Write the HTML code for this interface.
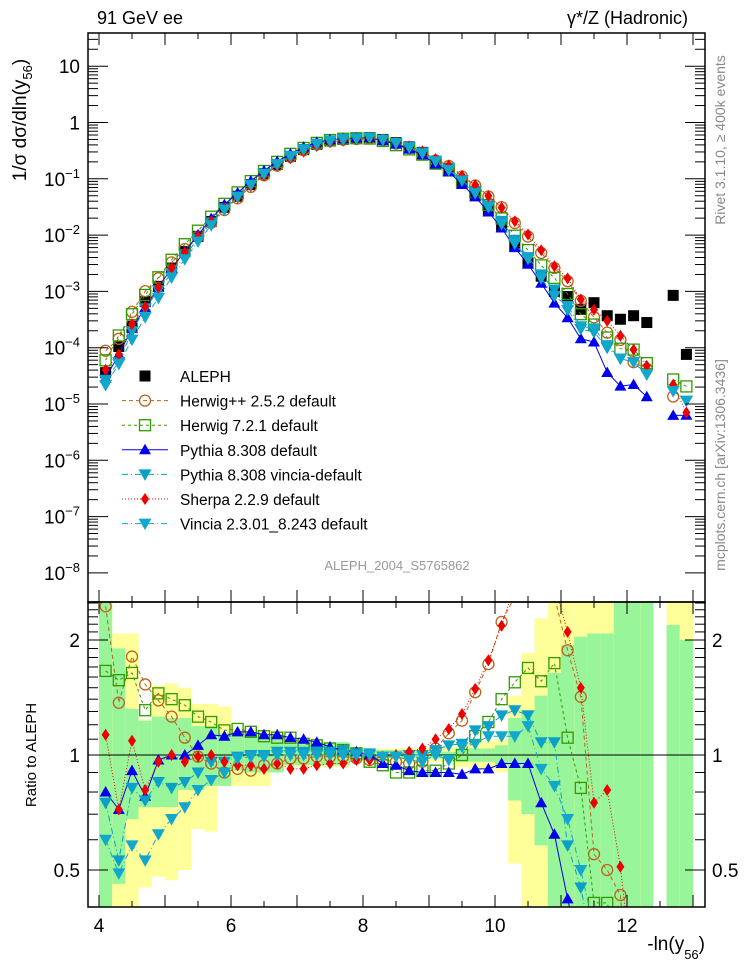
<!DOCTYPE html>
<html><head><meta charset="utf-8"><style>
html,body{margin:0;padding:0;background:#fff;width:746px;height:972px;overflow:hidden;}
svg{display:block;font-family:"Liberation Sans",sans-serif;}
</style></head><body>
<svg id="chart" width="746" height="972" viewBox="0 0 746 972" xmlns="http://www.w3.org/2000/svg">
<defs>
<clipPath id="clipTop"><rect x="88" y="33" width="617" height="569"/></clipPath>
<clipPath id="clipBot"><rect x="88" y="602" width="617" height="305"/></clipPath>
</defs>
<g id="bands" clip-path="url(#clipBot)"></g>
<g id="series"></g>
<g id="axes"></g>
<g id="legend"></g>
<text x="97" y="24" font-size="18">91 GeV ee</text>
<text x="688" y="24" font-size="18" text-anchor="end">γ*/Z (Hadronic)</text>
<text x="397" y="570" font-size="13" fill="#999" text-anchor="middle">ALEPH_2004_S5765862</text>
<text transform="translate(725,140) rotate(-90)" font-size="14" fill="#888" text-anchor="middle">Rivet 3.1.10, ≥ 400k events</text>
<text transform="translate(725,465) rotate(-90)" font-size="14" fill="#888" text-anchor="middle">mcplots.cern.ch [arXiv:1306.3436]</text>
<text transform="translate(26,120) rotate(-90)" font-size="19" text-anchor="middle">1/σ  dσ/dln(y<tspan font-size="13" dy="6">56</tspan><tspan dy="-6">)</tspan></text>
<text transform="translate(36,755) rotate(-90)" font-size="15" text-anchor="middle">Ratio to ALEPH</text>
<text x="705" y="950" font-size="19" text-anchor="end">-ln(y<tspan font-size="13" dy="9">56</tspan><tspan dy="-9">)</tspan></text>
</svg>
<script>
const centers = [4.1,4.3,4.5,4.7,4.9,5.1,5.3,5.5,5.7,5.9,6.1,6.3,6.5,6.7,6.9,7.1,7.3,7.5,7.7,7.9,8.1,8.3,8.5,8.7,8.9,9.1,9.3,9.5,9.7,9.9,10.1,10.3,10.5,10.7,10.9,11.1,11.3,11.5,11.7,11.9,12.1,12.3,12.5,12.7,12.9];
const alephValues = [3.6e-5,1.05e-4,2.4e-4,6.6e-4,1.23e-3,2.6e-3,5.1e-3,9.5e-3,0.0174,0.031,0.049,0.079,0.123,0.18,0.25,0.33,0.41,0.47,0.5,0.52,0.54,0.5,0.44,0.37,0.295,0.204,0.148,0.089,0.052,0.028,0.0141,6.3e-3,3.2e-3,1.86e-3,1.0e-3,8.1e-4,4.8e-4,6.3e-4,3.7e-4,3.2e-4,3.7e-4,2.8e-4,null,8.5e-4,7.6e-5];
const ratioHerwigPP = [2.45,1.37,1.81,1.53,1.39,1.26,1.11,0.99,0.95,0.90,0.92,0.91,0.94,0.95,0.98,0.98,0.99,0.99,0.99,0.98,0.97,0.97,0.96,0.95,0.96,1.04,1.14,1.23,1.46,1.73,2.23,2.6,2.95,2.6,2.6,1.88,1.42,0.55,0.50,0.43,0.15,0.15,null,0.016,null];
const ratioHerwig7 = [1.66,1.57,1.64,1.31,1.45,1.40,1.35,1.26,1.22,1.16,1.17,1.15,1.12,1.11,1.11,1.07,1.06,1.04,1.03,1.01,0.96,0.94,0.90,0.90,0.91,0.91,0.95,1.0,1.12,1.22,1.40,1.55,1.69,1.56,1.74,1.11,0.82,0.41,0.41,0.3,0.25,0.19,null,0.032,0.27];
const ratioPythia = [0.80,0.72,0.91,0.78,0.97,1.0,1.0,1.06,1.13,1.12,1.15,1.15,1.13,1.13,1.11,1.10,1.08,1.05,1.03,1.02,1.0,0.95,0.94,0.91,0.90,0.90,0.90,0.89,0.92,0.92,0.95,0.95,0.95,0.75,0.62,0.42,0.3,0.2,0.098,0.065,0.06,0.048,null,0.0074,0.083];
const ratioPythiaVincia = [0.75,0.53,0.82,0.76,0.85,0.82,0.85,0.90,0.96,0.96,0.99,1.0,1.0,1.02,1.02,1.02,1.02,1.02,1.03,1.01,1.01,0.99,0.99,1.0,1.0,1.03,1.06,1.07,1.16,1.19,1.27,1.31,1.27,1.08,1.08,0.58,0.45,0.3,0.27,0.2,0.15,0.12,null,0.02,0.15];
const ratioSherpa = [1.13,0.72,1.09,0.81,0.96,1.0,0.96,0.99,1.0,0.96,0.94,0.94,0.92,0.95,0.92,0.92,0.94,0.95,0.95,0.97,0.97,0.99,1.0,1.02,1.04,1.10,1.17,1.28,1.49,1.77,2.18,2.8,3.2,2.9,2.8,2.1,1.50,0.75,0.81,0.51,0.25,0.17,null,0.026,0.093];
const ratioVincia = [0.60,0.49,0.58,0.53,0.62,0.68,0.73,0.81,0.86,0.90,0.98,0.99,0.99,1.0,1.0,1.0,1.0,1.0,1.0,1.0,1.0,0.99,0.99,0.97,0.96,1.0,0.97,1.05,1.07,1.12,1.12,1.12,1.19,0.92,0.83,0.68,0.50,0.35,0.3,0.2,0.15,0.12,null,0.02,0.15];
const bandYellowHi = [2.5,2.08,2.08,1.24,1.52,1.54,1.5,1.36,1.36,1.34,1.17,1.16,1.16,1.16,1.1,1.1,1.09,1.08,1.07,1.05,1.04,1.04,1.04,1.04,1.04,1.04,1.05,1.06,1.07,1.09,1.1,1.43,1.85,2.28,2.5,2.5,2.5,2.5,2.5,2.5,2.5,2.5,null,2.5,2.5];
const bandYellowLo = [0.4,0.4,0.4,0.45,0.48,0.47,0.5,0.64,0.63,0.83,0.83,0.83,0.83,0.9,0.93,0.93,0.93,0.93,0.93,0.96,0.96,0.96,0.96,0.96,0.96,0.96,0.96,0.93,0.92,0.92,0.9,0.52,0.4,0.4,0.4,0.4,0.4,0.4,0.4,0.4,0.4,0.4,null,0.4,0.4];
const bandGreenHi = [2.5,1.9,1.32,1.23,1.26,1.25,1.25,1.19,1.19,1.14,1.14,1.12,1.12,1.12,1.08,1.08,1.08,1.08,1.08,1.03,1.03,1.03,1.03,1.02,1.02,1.02,1.02,1.04,1.04,1.04,1.06,1.25,1.31,1.43,1.64,1.94,2.04,2.08,2.08,2.5,2.5,2.5,null,2.19,2.0];
const bandGreenLo = [0.4,0.46,0.68,0.73,0.73,0.73,0.81,0.81,0.83,0.83,0.91,0.9,0.9,0.9,0.94,0.94,0.94,0.94,0.94,0.98,0.98,0.98,0.98,0.98,0.98,0.98,0.98,0.96,0.96,0.96,0.94,0.76,0.70,0.58,0.4,0.4,0.4,0.4,0.4,0.4,0.4,0.4,null,0.4,0.4];
const xTicks = [4,6,8,10,12];
const ratioTicks = [0.5,1,2];

const NS='http://www.w3.org/2000/svg';
const X0=88,X1=705,TOP0=33,TOP1=602,BOT1=907;
function sx(v){return 99+66*(v-4);}
function syTop(v){return 122.5-56.3*Math.log10(v);}
function syRat(r){return 755-382*Math.log10(r);}
function mk(tag,attrs,parent){const e=document.createElementNS(NS,tag);for(const k in attrs)e.setAttribute(k,attrs[k]);parent.appendChild(e);return e;}
const gBands=document.getElementById('bands'),gSeries=document.getElementById('series'),gAxes=document.getElementById('axes'),gLeg=document.getElementById('legend');

centers.forEach((c,i)=>{
  if(bandYellowHi[i]==null)return;
  const x=sx(c-0.1),w=sx(c+0.1)-sx(c-0.1);
  const y=mk('rect',{x:x,y:syRat(bandYellowHi[i]),width:w,height:syRat(bandYellowLo[i])-syRat(bandYellowHi[i]),fill:'#ffff99'},gBands);
  
  
  const g=mk('rect',{x:x,y:syRat(bandGreenHi[i]),width:w,height:syRat(bandGreenLo[i])-syRat(bandGreenHi[i]),fill:'#99f599'},gBands);
  
  
});
mk('line',{x1:X0,x2:X1,y1:syRat(1),y2:syRat(1),stroke:'#000','stroke-width':1},gBands);

const seriesList=[
 {name:'herwigpp',label:'Herwig++ 2.5.2 default',ratio:ratioHerwigPP,color:'#b8651b',dash:'4,3',marker:'circle'},
 {name:'herwig7',label:'Herwig 7.2.1 default',ratio:ratioHerwig7,color:'#339900',dash:'3,3',marker:'square'},
 {name:'pythia',label:'Pythia 8.308 default',ratio:ratioPythia,color:'#0000ee',dash:'',marker:'triup'},
 {name:'pythia-vincia',label:'Pythia 8.308 vincia-default',ratio:ratioPythiaVincia,color:'#0aa0c8',dash:'6,3,1,3',marker:'tridown'},
 {name:'sherpa',label:'Sherpa 2.2.9 default',ratio:ratioSherpa,color:'#ee0000',dash:'1,2',marker:'diamond'},
 {name:'vincia',label:'Vincia 2.3.01_8.243 default',ratio:ratioVincia,color:'#12a8cc',dash:'6,3,1,3',marker:'tridown'}
];
function drawMarker(type,x,y,color,parent){
  let e;
  if(type==='circle')e=mk('circle',{cx:x,cy:y,r:5.5,fill:'none',stroke:color,'stroke-width':1.3},parent);
  else if(type==='square')e=mk('rect',{x:x-5.5,y:y-5.5,width:11,height:11,fill:'none',stroke:color,'stroke-width':1.3},parent);
  else if(type==='triup')e=mk('polygon',{points:`${x},${y-6} ${x-6},${y+4.5} ${x+6},${y+4.5}`,fill:color},parent);
  else if(type==='tridown')e=mk('polygon',{points:`${x-6.5},${y-5} ${x+6.5},${y-5} ${x},${y+6.5}`,fill:color},parent);
  else if(type==='diamond')e=mk('polygon',{points:`${x},${y-6} ${x+4},${y} ${x},${y+6} ${x-4},${y}`,fill:color},parent);
  else e=mk('rect',{x:x-5.5,y:y-5.5,width:11,height:11,fill:color},parent);
  return e;
}
const gTop=mk('g',{'clip-path':'url(#clipTop)'},gSeries);
const gBot=mk('g',{'clip-path':'url(#clipBot)'},gSeries);
centers.forEach((c,i)=>{
  if(alephValues[i]==null)return;
  const m=drawMarker('filled',sx(c),syTop(alephValues[i]),'#000',gTop);
  
  
});
function drawLine(pts,s,parent){
  let segs=[],cur=[];
  pts.forEach(p=>{if(p==null){if(cur.length)segs.push(cur);cur=[];}else cur.push(p);});
  if(cur.length)segs.push(cur);
  segs.forEach(sg=>{
    const l=mk('polyline',{points:sg.map(p=>p.join(',')).join(' '),fill:'none',stroke:s.color,'stroke-width':1,'stroke-dasharray':s.dash},parent);
    
    
  });
}
seriesList.forEach(s=>{
  const topPts=centers.map((c,i)=>(s.ratio[i]==null||alephValues[i]==null)?null:[sx(c),syTop(alephValues[i]*s.ratio[i])]);
  const botPts=centers.map((c,i)=>(s.ratio[i]==null)?null:[sx(c),syRat(s.ratio[i])]);
  drawLine(topPts,s,gTop);drawLine(botPts,s,gBot);
  topPts.forEach(p=>{if(!p)return;const m=drawMarker(s.marker,p[0],p[1],s.color,gTop);
    
    });
  botPts.forEach(p=>{if(!p)return;const m=drawMarker(s.marker,p[0],p[1],s.color,gBot);
    
    });
});

mk('rect',{x:X0,y:TOP0,width:X1-X0,height:TOP1-TOP0,fill:'none',stroke:'#000','stroke-width':1.5},gAxes);
mk('rect',{x:X0,y:TOP1,width:X1-X0,height:BOT1-TOP1,fill:'none',stroke:'#000','stroke-width':1.5},gAxes);
for(let v=4;v<=13.01;v+=0.5){
  const x=sx(v),major=Math.abs(v-Math.round(v))<1e-6,L=major?12:6;
  [[TOP0,1],[TOP1,-1],[TOP1,1],[BOT1,-1]].forEach(([y,d])=>mk('line',{x1:x,x2:x,y1:y,y2:y+d*L,stroke:'#000','stroke-width':1},gAxes));
}
xTicks.forEach(v=>{const t=mk('text',{x:sx(v),y:932,'font-size':19,'text-anchor':'middle'},gAxes);t.textContent=v;
  
  });
for(let e=-8;e<=1;e++){
  for(let k=1;k<=9;k++){
    const v=k*Math.pow(10,e),y=syTop(v);
    if(y<TOP0||y>TOP1)continue;
    const L=k===1?20:10;
    mk('line',{x1:X0,x2:X0+L,y1:y,y2:y,stroke:'#000','stroke-width':1},gAxes);
    mk('line',{x1:X1,x2:X1-L,y1:y,y2:y,stroke:'#000','stroke-width':1},gAxes);
  }
  const t=mk('text',{x:80,y:syTop(Math.pow(10,e))+7,'font-size':19,'text-anchor':'end'},gAxes);
  
  
  if(e===1)t.textContent='10';else if(e===0)t.textContent='1';
  else{t.textContent='10';const sp=mk('tspan',{'font-size':13,dy:-8},t);sp.textContent='−'+(-e);}
}
for(let r=0.4;r<=2.51;r+=0.1){
  const y=syRat(r);if(y<TOP1||y>BOT1)continue;
  const major=ratioTicks.some(t=>Math.abs(t-r)<1e-6);const L=major?20:10;
  mk('line',{x1:X0,x2:X0+L,y1:y,y2:y,stroke:'#000','stroke-width':1},gAxes);
  mk('line',{x1:X1,x2:X1-L,y1:y,y2:y,stroke:'#000','stroke-width':1},gAxes);
}
ratioTicks.forEach(r=>{
  const a=mk('text',{x:80,y:syRat(r)+7,'font-size':19,'text-anchor':'end'},gAxes);a.textContent=r;
  
  
  const b=mk('text',{x:712,y:syRat(r)+7,'font-size':19},gAxes);b.textContent=r;
  
  
});
const legRows=[{label:'ALEPH',marker:'filled',color:'#000',dash:null}].concat(seriesList);
legRows.forEach((s,i)=>{
  const y=376+24.6*i;
  const g=mk('g',{},gLeg);
  
  
  if(s.dash!==null)mk('line',{x1:122,x2:168,y1:y,y2:y,stroke:s.color,'stroke-width':1,'stroke-dasharray':s.dash},g);
  drawMarker(s.marker,145,y,s.color,g);
  const t=mk('text',{x:180,y:y+6,'font-size':15.5},g);t.textContent=s.label;
});
</script>
</body></html>
